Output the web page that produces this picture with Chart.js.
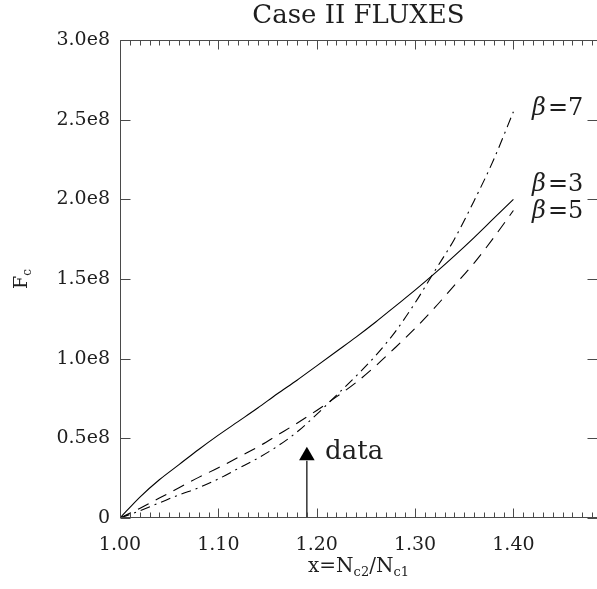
<!DOCTYPE html>
<html>
<head>
<meta charset="utf-8">
<script src="https://cdn.jsdelivr.net/npm/chart.js@4/dist/chart.umd.min.js"></script>
<style>
  html, body { margin: 0; padding: 0; background: #fff; }
  canvas { display: block; }
</style>
</head>
<body>
<canvas id="graficoFluxos" width="597" height="589"></canvas>
<script>
// ==============================
// Dados (fluxos em unidades de 1e8)
// ==============================
const xValues   = [1.00, 1.02, 1.04, 1.06, 1.08, 1.10, 1.12, 1.14, 1.16, 1.18, 1.20,
                   1.22, 1.24, 1.26, 1.28, 1.30, 1.32, 1.34, 1.36, 1.38, 1.40];
const fluxBeta3 = [0, 0.13, 0.24, 0.335, 0.43, 0.52, 0.605, 0.69, 0.78, 0.865, 0.955,
                   1.045, 1.135, 1.23, 1.33, 1.43, 1.535, 1.645, 1.76, 1.88, 2.00];
const fluxBeta5 = [0, 0.06, 0.125, 0.19, 0.255, 0.315, 0.38, 0.445, 0.52, 0.595, 0.675,
                   0.76, 0.85, 0.955, 1.07, 1.19, 1.32, 1.46, 1.60, 1.76, 1.93];
const fluxBeta7 = [0, 0.045, 0.095, 0.145, 0.19, 0.245, 0.31, 0.375, 0.45, 0.54, 0.65,
                   0.77, 0.89, 1.02, 1.17, 1.35, 1.55, 1.75, 1.99, 2.25, 2.55];
const curveLabels = ["\u03B2=3", "\u03B2=5", "\u03B2=7"];
const xTickLabels = ["1.00", "1.10", "1.20", "1.30", "1.40"];
const yTickLabels = ["0", "0.5e8", "1.0e8", "1.5e8", "2.0e8", "2.5e8", "3.0e8"];
const dataMarkerX = 1.19;
const dataMarkerTop = 0.39;

const FONTE = "DejaVu Serif";
const COR_TEXTO = "#1e1e1e";

function toPoints(vals) {
    return xValues.map((x, i) => ({ x: x, y: vals[i] * 1e8 }));
}

// ==============================
// Moldura estilo IDL + textos
// ==============================
const molduraIDL = {
    id: "molduraIDL",
    afterDatasetsDraw(chart) {
        const { ctx, chartArea: a, scales: { x, y } } = chart;
        ctx.save();
        ctx.strokeStyle = "#4a4a4a";
        ctx.lineWidth = 1;
        const seg = (x1, y1, x2, y2) => {
            ctx.beginPath(); ctx.moveTo(x1, y1); ctx.lineTo(x2, y2); ctx.stroke();
        };
        // eixo direito fica logo além da borda da imagem (como no original)
        const L = a.left + 0.5, R = a.right + 0.5, T = a.top + 0.5, B = a.bottom - 0.5;
        seg(L, T, L, B); seg(L, B, R, B); seg(L, T, R, T); seg(R, T, R, B);

        // ticks de x (maiores e menores)
        for (let i = 0; i <= 60; i++) {
            const v = 1 + i * 0.01;
            if (v > x.max + 1e-9) break;
            const px = Math.round(x.getPixelForValue(v)) + 0.5;
            const len = i % 10 === 0 ? 9 : 5;
            seg(px, B, px, B - len);
            seg(px, T, px, T + len);
        }
        // ticks de y
        for (let i = 0; i < yTickLabels.length; i++) {
            const py = Math.round(y.getPixelForValue(i * 0.5e8)) + 0.5;
            seg(L, py, L + 10, py);
            seg(R, py, R - 10, py);
        }

        ctx.fillStyle = COR_TEXTO;
        ctx.textBaseline = "middle";

        // título
        ctx.font = "26px '" + FONTE + "'";
        ctx.textAlign = "center";
        ctx.fillText("Case II FLUXES", (a.left + a.right) / 2, 16);

        // título do eixo x: x=N_c2/N_c1
        const partes = [["x=N", 20, 0], ["c2", 13, 6], ["/N", 20, 0], ["c1", 13, 6]];
        let larg = 0;
        partes.forEach(p => { ctx.font = p[1] + "px '" + FONTE + "'"; larg += ctx.measureText(p[0]).width; });
        let cx = (a.left + a.right) / 2 - larg / 2;
        ctx.textAlign = "left";
        partes.forEach(p => {
            ctx.font = p[1] + "px '" + FONTE + "'";
            ctx.fillText(p[0], cx, 567 + p[2]);
            cx += ctx.measureText(p[0]).width;
        });

        // título do eixo y: F_c (rotacionado)
        ctx.save();
        ctx.translate(22, (a.top + a.bottom) / 2);
        ctx.rotate(-Math.PI / 2);
        ctx.font = "19px '" + FONTE + "'";
        const wF = ctx.measureText("F").width;
        ctx.font = "12px '" + FONTE + "'";
        const wc = ctx.measureText("c").width;
        let sx = -(wF + wc) / 2;
        ctx.font = "19px '" + FONTE + "'";
        ctx.fillText("F", sx, 0);
        ctx.font = "12px '" + FONTE + "'";
        ctx.fillText("c", sx + wF, 6);
        ctx.restore();

        // rótulos das curvas
        const pos = [[1.419, 2.09e8], [1.419, 1.92e8], [1.419, 2.57e8]];
        curveLabels.forEach((lab, i) => {
            let px = x.getPixelForValue(pos[i][0]);
            const py = y.getPixelForValue(pos[i][1]);
            ctx.font = "italic 24px '" + FONTE + "'";
            ctx.fillText(lab[0], px, py);
            px += ctx.measureText(lab[0]).width + 2;
            ctx.font = "24px '" + FONTE + "'";
            ctx.fillText(lab.slice(1), px, py);
        });

        // rótulo "data"
        ctx.font = "26px '" + FONTE + "'";
        ctx.fillText("data", x.getPixelForValue(1.2085), y.getPixelForValue(0.414e8));
        ctx.restore();
    }
};

const ctx = document.getElementById("graficoFluxos").getContext("2d");

new Chart(ctx, {
    type: "line",
    data: {
        datasets: [
            {
                label: curveLabels[0],
                data: toPoints(fluxBeta3),
                borderColor: "#000",
                borderWidth: 1.1,
                pointRadius: 0,
                cubicInterpolationMode: "monotone"
            },
            {
                label: curveLabels[1],
                data: toPoints(fluxBeta5),
                borderColor: "#000",
                borderWidth: 1.1,
                borderDash: [12, 8],
                pointRadius: 0,
                cubicInterpolationMode: "monotone"
            },
            {
                label: curveLabels[2],
                data: toPoints(fluxBeta7),
                borderColor: "#000",
                borderWidth: 1.1,
                borderDash: [10, 5, 2, 5],
                pointRadius: 0,
                cubicInterpolationMode: "monotone"
            },
            {
                // haste da seta "data"
                label: "data",
                data: [{ x: dataMarkerX, y: 0 }, { x: dataMarkerX, y: (dataMarkerTop - 0.03) * 1e8 }],
                borderColor: "#000",
                borderWidth: 1.2,
                pointRadius: 0
            },
            {
                // ponta da seta
                label: "seta",
                data: [{ x: dataMarkerX, y: dataMarkerTop * 1e8 }],
                showLine: false,
                pointStyle: "triangle",
                pointRadius: 9,
                backgroundColor: "#000",
                borderColor: "#000",
                borderWidth: 0
            }
        ]
    },
    options: {
        responsive: false,
        animation: false,
        layout: { autoPadding: false, padding: { top: 40, right: 0, bottom: 0, left: 0 } },
        plugins: {
            legend: { display: false },
            title: { display: false },
            tooltip: { enabled: false }
        },
        scales: {
            x: {
                type: "linear",
                min: 1.0,
                max: 1.485,
                grid: { display: false, drawTicks: false },
                border: { display: false },
                ticks: {
                    stepSize: 0.1,
                    includeBounds: false,
                    autoSkip: false,
                    maxRotation: 0,
                    padding: 16,
                    color: COR_TEXTO,
                    font: { family: FONTE, size: 19 },
                    callback: (v, i) => xTickLabels[i] ?? ""
                },
                afterFit: s => { s.height = 71; s.paddingLeft = 0; s.paddingRight = 0; }
            },
            y: {
                type: "linear",
                min: 0,
                max: 3.0e8,
                grid: { display: false, drawTicks: false },
                border: { display: false },
                ticks: {
                    stepSize: 0.5e8,
                    padding: 10,
                    color: COR_TEXTO,
                    font: { family: FONTE, size: 19 },
                    callback: (v, i) => yTickLabels[i] ?? ""
                },
                afterFit: s => { s.width = 120; s.paddingTop = 0; s.paddingBottom = 0; }
            }
        }
    },
    plugins: [molduraIDL]
});
</script>
</body>
</html>
